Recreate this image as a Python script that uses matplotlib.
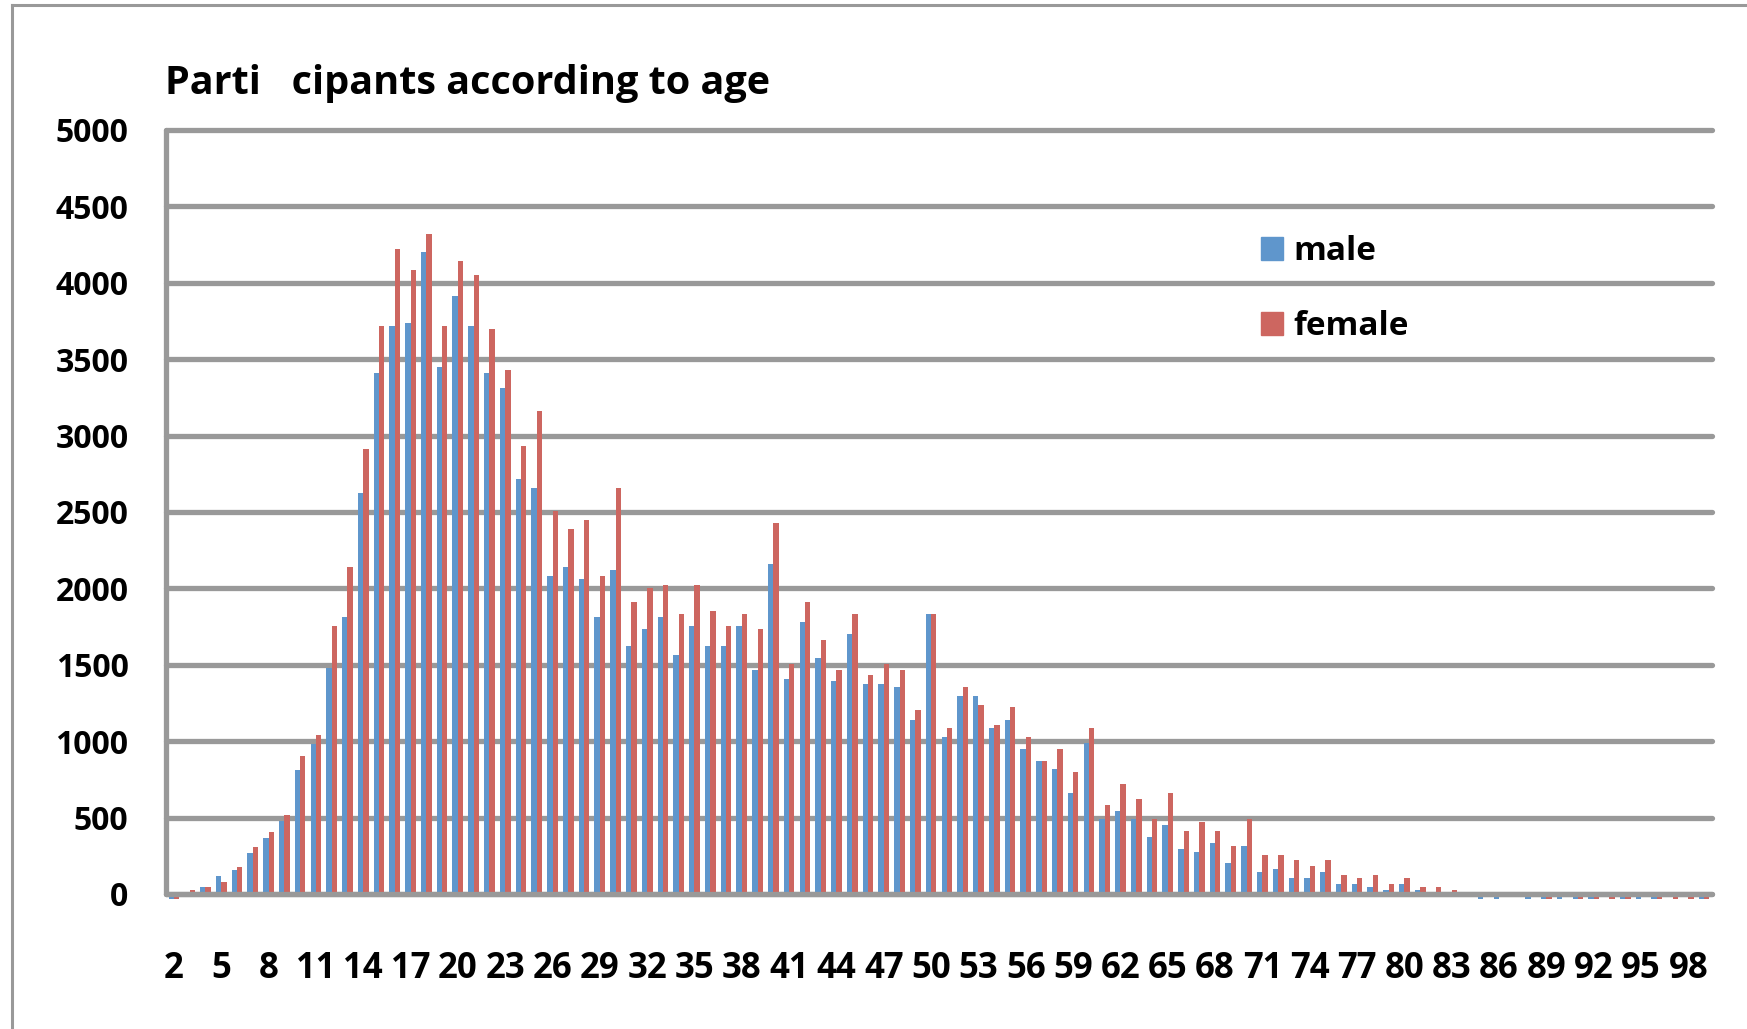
import matplotlib
matplotlib.use('Agg')
import matplotlib.pyplot as plt
from matplotlib.lines import Line2D
from matplotlib.patches import Patch
import numpy as np

# 年龄 2..99
ages = list(range(2, 100))

male = [
    -30, 0, 45, 120, 155, 270, 367, 481, 812, 980,            # 2-11
    1482, 1813, 2622, 3410, 3720, 3735, 4201, 3446, 3912, 3720,  # 12-21
    3410, 3314, 2718, 2658, 2081, 2141, 2063, 1813, 2120, 1621,  # 22-31
    1735, 1813, 1561, 1753, 1621, 1621, 1757, 1469, 2162, 1410,  # 32-41
    1777, 1546, 1393, 1700, 1373, 1373, 1354, 1142, 1833, 1027,  # 42-51
    1297, 1297, 1086, 1142, 948, 872, 815, 661, 988, 488,        # 52-61
    545, 488, 373, 449, 296, 277, 334, 200, 314, 142,            # 62-71
    161, 102, 102, 144, 65, 65, 46, 26, 65, 26,                  # 72-81
    0, 0, 0, -30, -30, 0, -30, -30, -30, -30,                    # 82-91
    -30, 0, -30, -30, -30, 0, 0, -30,                            # 92-99
]

female = [
    -30, 25, 45, 80, 177, 310, 406, 520, 905, 1040,             # 2-11
    1753, 2141, 2911, 3720, 4219, 4087, 4318, 3720, 4144, 4048,  # 12-21
    3699, 3431, 2929, 3160, 2505, 2391, 2448, 2081, 2658, 1909,  # 22-31
    2002, 2024, 1831, 2024, 1852, 1753, 1833, 1737, 2430, 1508,  # 32-41
    1912, 1661, 1469, 1833, 1430, 1508, 1469, 1201, 1833, 1086,  # 42-51
    1354, 1238, 1105, 1221, 1027, 872, 948, 796, 1086, 584,      # 52-61
    719, 621, 488, 661, 412, 469, 412, 314, 488, 257,            # 62-71
    257, 220, 181, 220, 124, 105, 124, 65, 105, 46,              # 72-81
    46, 26, 0, 0, 0, 0, 0, -30, 0, -30,                          # 82-91
    -30, -30, -30, 0, -30, -30, -30, -30,                        # 92-99
]

title = "Parti   cipants according to age"
series_names = ['male', 'female']

W, H = 1747, 1029
FONT = ['Open Sans', 'DejaVu Sans']
GRID = '#999999'
BLUE = '#5F96CC'
RED = '#CD6660'

fig = plt.figure(figsize=(W / 100, H / 100), dpi=100)
# 坐标区位置（像素）
left, right, top, bottom = 166, 1712, 130, 894
ax = fig.add_axes([left / W, (H - bottom) / H, (right - left) / W, (bottom - top) / H])

x = np.arange(len(ages))
bw = 0.34
ax.bar(x - bw / 2, male, width=bw, color=BLUE, clip_on=False, zorder=2, label=series_names[0])
ax.bar(x + bw / 2, female, width=bw, color=RED, clip_on=False, zorder=2, label=series_names[1])

ax.set_xlim(-0.5, len(ages) - 0.5)
ax.set_ylim(0, 5000)
ax.set_yticks(np.arange(0, 5001, 500))
ax.set_xticks(x[::3])
ax.set_xticklabels([str(a) for a in ages[::3]])

for lab in ax.get_xticklabels() + ax.get_yticklabels():
    lab.set_family(FONT)
    lab.set_fontweight('bold')
for lab in ax.get_xticklabels():
    lab.set_fontsize(25)
for lab in ax.get_yticklabels():
    lab.set_fontsize(23)
ax.tick_params(axis='both', length=0)
ax.tick_params(axis='x', pad=41)
ax.tick_params(axis='y', pad=27)

# 网格线
ax.set_axisbelow(True)
ax.yaxis.grid(True, color=GRID, linewidth=3.8)
for gl in ax.get_ygridlines():
    gl.set_solid_capstyle('round')
    gl.set_clip_on(False)

for s in ['top', 'right']:
    ax.spines[s].set_visible(False)
for s in ['left', 'bottom']:
    ax.spines[s].set_color(GRID)
    ax.spines[s].set_linewidth(3.8)
    ax.spines[s].set_capstyle('round')
    ax.spines[s].set_zorder(3)

# 标题
fig.text(165 / W, (H - 94) / H, title, family=FONT, fontweight='bold',
         fontsize=28.5, ha='left', va='baseline')

# 图例
handles = [Patch(color=BLUE), Patch(color=RED)]
leg = ax.legend(handles, series_names, loc='upper left',
                bbox_to_anchor=(1261 / W, (H - 235) / H), bbox_transform=fig.transFigure,
                frameon=False, borderpad=0, borderaxespad=0,
                handlelength=0.66, handleheight=0.66, handletextpad=0.3,
                labelspacing=1.27, prop={'family': FONT, 'weight': 'bold', 'size': 24})

# 外框
fig.add_artist(Line2D([12 / W, 12 / W], [0, (H - 5) / H], color=GRID, linewidth=2.2))
fig.add_artist(Line2D([12 / W, 1], [(H - 5) / H, (H - 5) / H], color=GRID, linewidth=2.2))

fig.savefig('out.png', dpi=100, facecolor='white')
